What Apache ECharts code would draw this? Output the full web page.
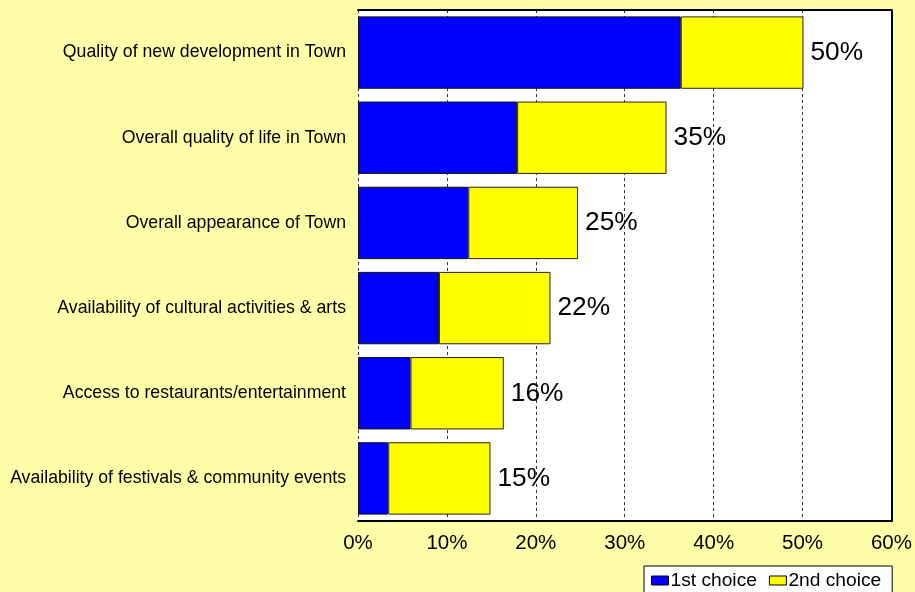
<!DOCTYPE html>
<html>
<head>
<meta charset="utf-8">
<script src="https://cdn.jsdelivr.net/npm/echarts@6/dist/echarts.min.js"></script>
<style>
html,body{margin:0;padding:0;background:#FFFFAA;}
#chart{width:915px;height:592px;}
</style>
</head>
<body>
<div id="chart"></div>
<script>
const categories = [
  'Quality of new development in Town',
  'Overall quality of life in Town',
  'Overall appearance of Town',
  'Availability of cultural activities & arts',
  'Access to restaurants/entertainment',
  'Availability of festivals & community events'
];
const firstChoice = [36.3, 17.9, 12.4, 9.1, 5.9, 3.4];
const secondChoice = [13.8, 16.8, 12.35, 12.55, 10.5, 11.5];
const xTicks = [0, 10, 20, 30, 40, 50, 60];
const seriesNames = ['1st choice', '2nd choice'];

const chart = echarts.init(document.getElementById('chart'));
const font = 'Liberation Sans, Arial, sans-serif';
chart.setOption({
  backgroundColor: '#FFFFAA',
  animation: false,
  textStyle: { fontFamily: font },
  grid: { left: 358, right: 23, top: 10, bottom: 71, show: true, backgroundColor: '#fff', borderWidth: 0 },
  legend: {
    left: 644, top: 566,
    data: seriesNames,
    icon: 'rect',
    backgroundColor: '#fff', borderColor: '#000', borderWidth: 1,
    padding: [5, 11, 12, 7],
    itemWidth: 17, itemHeight: 9, itemGap: 12,
    textStyle: { fontSize: 19.2, color: '#000', fontFamily: font, padding: [0, 0, 0, -3] },
    itemStyle: { borderColor: '#000', borderWidth: 1 }
  },
  xAxis: [{
    type: 'value', min: xTicks[0], max: xTicks[xTicks.length - 1], interval: 10,
    axisLine: { show: true, lineStyle: { color: '#000', width: 2 } },
    axisTick: { show: false },
    axisLabel: { formatter: v => v + '%', fontSize: 20.5, color: '#000', margin: 12, fontFamily: font },
    splitLine: { show: true, lineStyle: { color: '#333', type: [3, 3], width: 1 } }
  }, {
    type: 'value', position: 'top', min: xTicks[0], max: xTicks[xTicks.length - 1], interval: 10,
    axisLine: { show: true, onZero: false, lineStyle: { color: '#000', width: 2 } },
    axisTick: { show: false }, axisLabel: { show: false }, splitLine: { show: false }
  }],
  yAxis: [{
    type: 'category', data: categories, inverse: true,
    axisLine: { show: false }, axisTick: { show: false },
    axisLabel: { fontSize: 17.7, color: '#000', margin: 12, fontFamily: font }
  }, {
    type: 'category', data: categories, inverse: true, position: 'right',
    axisLine: { show: true, onZero: false, lineStyle: { color: '#000', width: 2 } },
    axisTick: { show: false }, axisLabel: { show: false }
  }],
  series: [{
    name: seriesNames[0], type: 'bar', stack: 'total', data: firstChoice,
    barCategoryGap: '15%',
    itemStyle: { color: '#0000FF', borderColor: '#111', borderWidth: 1 }
  }, {
    name: seriesNames[1], type: 'bar', stack: 'total', data: secondChoice,
    barCategoryGap: '15%',
    itemStyle: { color: '#FFFF00', borderColor: '#222', borderWidth: 1 },
    label: {
      show: true, position: 'right', distance: 7,
      fontSize: 26.3, color: '#000', fontFamily: font,
      formatter: p => Math.round(firstChoice[p.dataIndex] + secondChoice[p.dataIndex]) + '%'
    }
  }]
});
</script>
</body>
</html>
